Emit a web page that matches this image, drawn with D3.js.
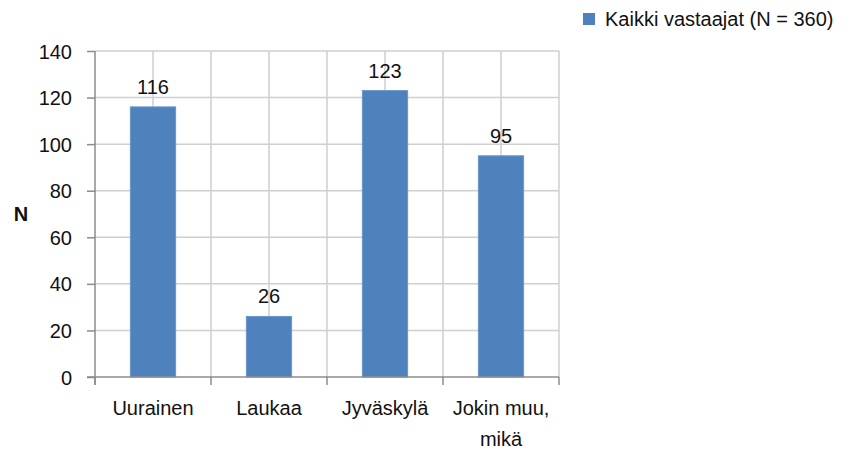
<!DOCTYPE html>
<meta charset="utf-8">
<style>
  body { margin: 0; background: #ffffff; }
  text { font-family: "Liberation Sans", Arial, sans-serif; fill: #111111; font-size: 20px; }
  .grid line { stroke: #cfcfcf; stroke-width: 1.5; }
  .axis path, .axis line { stroke: #8c8c8c; stroke-width: 1.5; }
</style>
<body>
<div id="chart"></div>
<script src="https://d3js.org/d3.v7.min.js"></script>
<script>

  var categories = ["Uurainen", "Laukaa", "Jyväskylä", "Jokin muu, mikä"];
  var values = [116, 26, 123, 95];
  var yTicks = [0, 20, 40, 60, 80, 100, 120, 140];
  var seriesName = "Kaikki vastaajat (N = 360)";
  var yLabel = "N";

  var svg_dx = 850, svg_dy = 450;
  var plot = {left: 95, right: 559, top: 51, bottom: 377};

  var svg = d3.select("#chart").append("svg")
              .attr("width", svg_dx)
              .attr("height", svg_dy);

  var x = d3.scaleBand()
            .domain(categories)
            .range([plot.left, plot.right])
            .paddingInner(0.61)
            .paddingOuter(0.305);

  var y = d3.scaleLinear()
            .domain([0, 140])
            .range([plot.bottom, plot.top]);

  var step = x.step();

  // horizontal grid
  svg.append("g").attr("class", "grid")
     .selectAll("line").data(yTicks.filter(d => d > 0)).enter()
     .append("line")
     .attr("x1", plot.left).attr("x2", plot.right)
     .attr("y1", d => y(d)).attr("y2", d => y(d));

  // vertical grid: category boundaries and centres
  var vlines = [];
  categories.forEach(function (c) {
      vlines.push(x(c) - (step - x.bandwidth()) / 2);
      vlines.push(x(c) + x.bandwidth() / 2);
  });
  vlines.push(plot.right);

  svg.append("g").attr("class", "grid")
     .selectAll("line").data(vlines.slice(1)).enter()
     .append("line")
     .attr("x1", d => d).attr("x2", d => d)
     .attr("y1", plot.top).attr("y2", plot.bottom);

  // bars
  svg.append("g")
     .selectAll("rect").data(values).enter()
     .append("rect")
     .attr("x", (d, i) => x(categories[i]))
     .attr("width", x.bandwidth())
     .attr("y", d => y(d))
     .attr("height", d => y(0) - y(d))
     .attr("fill", "#4f81bd")
     .attr("stroke", "#6a97cc")
     .attr("stroke-width", 1);

  // value labels
  svg.append("g")
     .selectAll("text").data(values).enter()
     .append("text")
     .attr("x", (d, i) => x(categories[i]) + x.bandwidth() / 2)
     .attr("y", d => y(d) - 13)
     .attr("text-anchor", "middle")
     .text(d => d);

  // y axis
  var axis_y = d3.axisLeft(y).tickValues(yTicks).tickSize(8).tickPadding(15);
  var gy = svg.append("g").attr("class", "axis")
              .attr("transform", "translate(" + plot.left + ",0)")
              .call(axis_y);
  gy.select(".domain").attr("d", "M0," + (plot.top) + "V" + (plot.bottom + 8));
  gy.selectAll("text").style("font-size", "20px").style("font-family", null).attr("dy", "0.35em");

  // x axis
  var gx = svg.append("g").attr("class", "axis")
              .attr("transform", "translate(0," + plot.bottom + ")");
  gx.append("line").attr("x1", plot.left - 8).attr("x2", plot.right)
    .attr("y1", 0).attr("y2", 0);
  gx.selectAll(".tick").data(vlines.filter((d, i) => i % 2 == 0)).enter()
    .append("line")
    .attr("x1", d => d).attr("x2", d => d)
    .attr("y1", 0).attr("y2", 8);

  var xl = gx.selectAll("text.lab").data(categories).enter()
    .append("text")
    .attr("class", "lab")
    .attr("x", d => x(d) + x.bandwidth() / 2)
    .attr("y", 38)
    .attr("text-anchor", "middle")
    .text(d => d);

  xl.each(function (d) {
      var t = d3.select(this);
      if (this.getComputedTextLength() <= step) return;
      var words = d.split(" "), line = [];
      t.text(null);
      var cx = +t.attr("x");
      var tsp = t.append("tspan").attr("x", cx);
      words.forEach(function (w) {
          line.push(w);
          tsp.text(line.join(" "));
          if (tsp.node().getComputedTextLength() > step && line.length > 1) {
              line.pop();
              tsp.text(line.join(" "));
              line = [w];
              tsp = t.append("tspan").attr("x", cx).attr("dy", 31).text(w);
          }
      });
  });

  // y label
  svg.append("text")
     .attr("x", 21).attr("y", (plot.top + plot.bottom) / 2)
     .attr("dy", "0.35em")
     .attr("text-anchor", "middle")
     .style("font-weight", "bold")
     .text(yLabel);

  // legend
  var lg = svg.append("g").attr("transform", "translate(583,13)");
  lg.append("rect").attr("width", 12).attr("height", 12).attr("fill", "#4f81bd");
  lg.append("text").attr("x", 22).attr("y", 13)
    .text(seriesName);

</script>
</body>
